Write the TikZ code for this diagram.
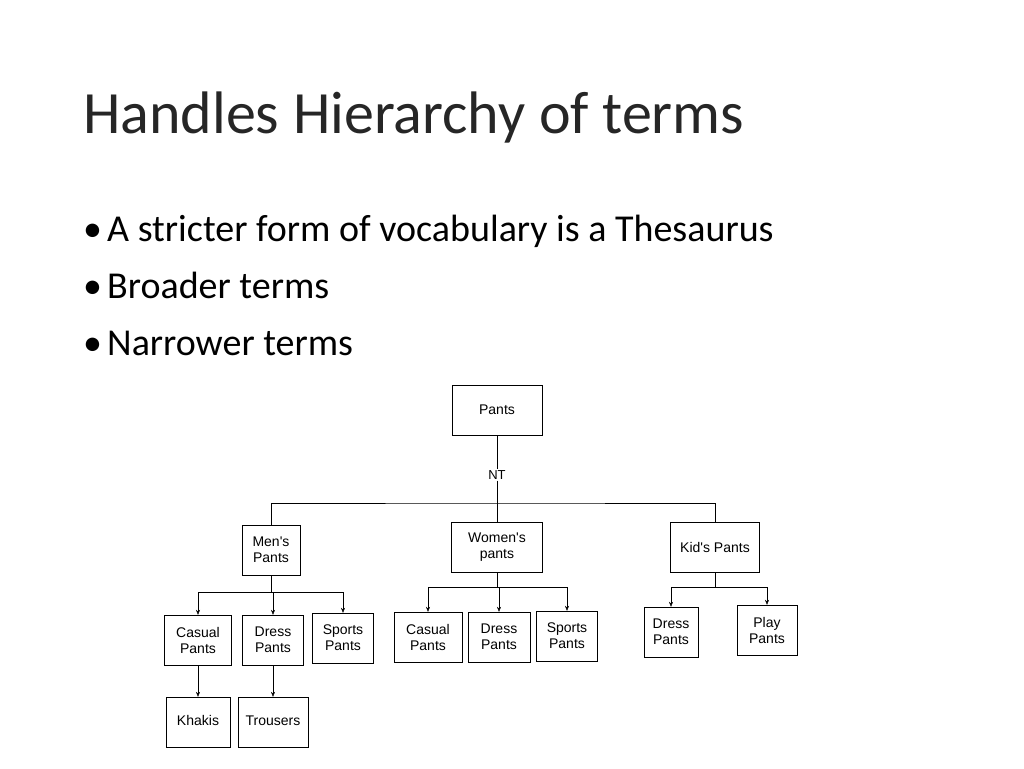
\documentclass[tikz,border=0pt]{standalone}
\usepackage{fontspec}
\setmainfont{Carlito}
\newfontfamily\boxfont{Liberation Sans}
\usetikzlibrary{positioning,arrows.meta}
\tikzset{
  term/.style={draw, thin, inner sep=0pt, align=center, font=\boxfont\fontsize{14}{16}\selectfont},
  narrow/.style={-{Stealth[length=5pt,width=4pt]}, thin},
  bullet/.style={anchor=base west, inner sep=0pt, font=\fontsize{38}{44}\selectfont},
}
\begin{document}
\begin{tikzpicture}[x=1pt,y=1pt,yscale=-1,xscale=1]
		% Set diagram size to the slide
		\useasboundingbox (0,0) rectangle (1024,768);

		% Title and bullets
		\node[anchor=base west, inner sep=0pt, font=\fontsize{60}{66}\selectfont\addfontfeature{Color=262626}] (title) at (83,133) {Handles Hierarchy of terms};
		\foreach \y/\txt [count=\i] in {241/A stricter form of vocabulary is a Thesaurus, 298/Broader terms, 355/Narrower terms} {
			\node[bullet] (dot\i) at (83,\y) {\textbullet};
			\node[bullet] (b\i) at (107,\y) {\txt};
		}

		% Top term
		\node[term, minimum width=90, minimum height=50] (pants) at (497,410) {Pants};
		\node[inner sep=1pt, font=\boxfont\fontsize{13}{15}\selectfont] (nt) at (497,475) {NT};

		% Second level
		\node[term, minimum width=58, minimum height=50] (mens) at (271,550) {Men's\\Pants};
		\node[term, minimum width=91, minimum height=50] (womens) at (497,547) {Women's\\pants};
		\node[term, minimum width=89, minimum height=50] (kids) at (715,547) {Kid's Pants};

		% Third level
		\node[term, minimum width=67, minimum height=50] (mcasual) at (198,640) {Casual\\Pants};
		\node[term, minimum width=61, minimum height=50] (mdress) at (273,640) {Dress\\Pants};
		\node[term, minimum width=61, minimum height=50] (msports) at (343,638) {Sports\\Pants};
		\node[term, minimum width=68, minimum height=50] (wcasual) at (428,637) {Casual\\Pants};
		\node[term, minimum width=62, minimum height=50] (wdress) at (499,637) {Dress\\Pants};
		\node[term, minimum width=61, minimum height=50] (wsports) at (567,636) {Sports\\Pants};
		\node[term, minimum width=54, minimum height=50] (kdress) at (671,632) {Dress\\Pants};
		\node[term, minimum width=60, minimum height=50] (kplay) at (767,630) {Play\\Pants};

		% Fourth level
		\node[term, minimum width=64, minimum height=50] (khakis) at (198,722) {\strut Khakis};
		\node[term, minimum width=70, minimum height=50] (trousers) at (273,722) {\strut Trousers};

		% Branch points
		\coordinate (top) at (497,503);
		\coordinate (mb) at (271,592);
		\coordinate (wb) at (497,587);
		\coordinate (kb) at (715,587);

		% Top level connectors
		\draw[thin] (pants) -- (nt) -- (top);
		\draw[thin] (mens.north) |- (top) -| (kids.north);
		\draw[thin] (top) -- (womens);

		% Men's branch
		\draw[thin] (mens) -- (mb);
		\draw[thin] (mcasual.north |- mb) -- (msports.north |- mb);
		\foreach \t in {mcasual,mdress,msports}
			\draw[narrow] (\t.north |- mb) -- (\t.north);

		% Women's branch
		\draw[thin] (womens) -- (wb);
		\draw[thin] (wcasual.north |- wb) -- (wsports.north |- wb);
		\foreach \t in {wcasual,wdress,wsports}
			\draw[narrow] (\t.north |- wb) -- (\t.north);

		% Kid's branch
		\draw[semithick] (kids) -- (kb);
		\draw[thin] (kdress.north |- kb) -- (kplay.north |- kb);
		\foreach \t in {kdress,kplay}
			\draw[narrow] (\t.north |- kb) -- (\t.north);

		% Fourth level connectors
		\draw[narrow] (mcasual) -- (khakis);
		\draw[narrow] (mdress) -- (trousers);
\end{tikzpicture}
\end{document}
